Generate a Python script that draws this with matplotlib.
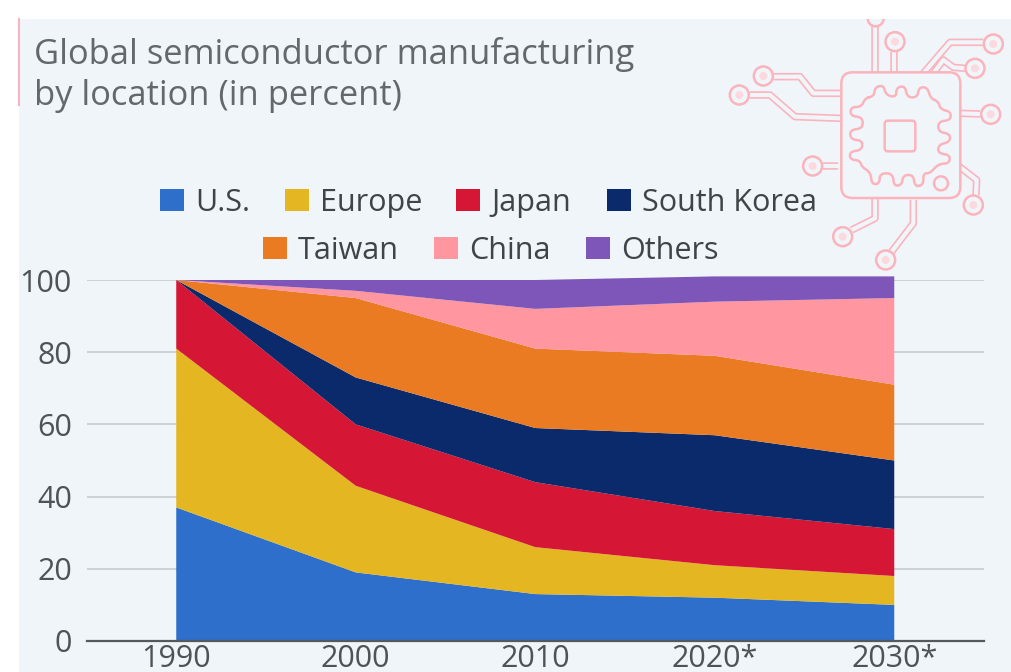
import matplotlib
matplotlib.use('Agg')
import matplotlib.pyplot as plt
from matplotlib.patches import Rectangle, Circle, FancyBboxPatch

plt.rcParams['font.family'] = ['Open Sans', 'DejaVu Sans']

W, H = 1012, 672

years = ['1990', '2000', '2010', '2020*', '2030*']
series_names = ['U.S.', 'Europe', 'Japan', 'South Korea', 'Taiwan', 'China', 'Others']
us = [37, 19, 13, 12, 10]
europe = [44, 24, 13, 9, 8]
japan = [19, 17, 18, 15, 13]
south_korea = [0, 13, 15, 21, 19]
taiwan = [0, 22, 22, 22, 21]
china = [0, 2, 11, 15, 24]
others = [0, 3, 8, 7, 6]
y_ticks = [0, 20, 40, 60, 80, 100]

colors = ['#2D6FCB', '#E3B622', '#D51635', '#0B2A6B', '#EA7B22', '#FF96A0', '#7E55B8']
BG = '#F0F5FA'
PINK = '#FBB4BC'
TEXT = '#4E5356'

fig = plt.figure(figsize=(W / 100, H / 100), dpi=100, facecolor='white')

# full-figure layer in pixel coordinates for panel, title, legend and icon
bg = fig.add_axes([0, 0, 1, 1])
bg.set_xlim(0, W)
bg.set_ylim(H, 0)
bg.axis('off')
bg.add_patch(Rectangle((19, 19), W - 19, H - 19, fc=BG, ec='none'))
bg.plot([19.5, 19.5], [19, 105], color=PINK, lw=1.5)

bg.text(34, 55, 'Global semiconductor manufacturing', fontsize=24.8, color='#63686B', va='center')
bg.text(34, 96, 'by location (in percent)', fontsize=24.8, color='#63686B', va='center')

# legend, two centred rows
legend_rows = [(200, [(160, 0), (285, 1), (456, 2), (607, 3)]),
               (248, [(263, 4), (434, 5), (586, 6)])]
for y, row in legend_rows:
    for x, i in row:
        bg.add_patch(Rectangle((x, y - 11), 24, 22, fc=colors[i], ec='none'))
        bg.text(x + 35, y + 3, series_names[i], fontsize=22, color='#3F4447', va='center')


# chip icon, positions given on a 3x grid then scaled down
def ix(x):
    return 720 + x / 3


def iy(y):
    return 10 + y / 3


def smooth(pts, rounds=2):
    # corner cutting for the rounded chip outline
    for _ in range(rounds):
        out = []
        for a, b in zip(pts, pts[1:] + pts[:1]):
            out.append((0.75 * a[0] + 0.25 * b[0], 0.75 * a[1] + 0.25 * b[1]))
            out.append((0.25 * a[0] + 0.75 * b[0], 0.25 * a[1] + 0.75 * b[1]))
        pts = out
    return pts + pts[:1]


def double_line(pts):
    xs = [ix(p[0]) for p in pts]
    ys = [iy(p[1]) for p in pts]
    bg.plot(xs, ys, color=PINK, lw=5.4, solid_joinstyle='round', solid_capstyle='butt', zorder=3)
    bg.plot(xs, ys, color=BG, lw=3.0, solid_joinstyle='round', solid_capstyle='butt', zorder=4)


traces = [
    [(465, 188), (465, 27)],
    [(522, 188), (522, 125)],
    [(610, 190), (690, 97), (790, 97)],
    [(640, 190), (670, 150), (700, 172), (735, 175)],
    [(362, 250), (280, 250), (240, 200), (160, 200)],
    [(362, 325), (225, 320), (150, 255), (90, 255)],
    [(355, 468), (310, 468)],
    [(722, 310), (780, 312)],
    [(712, 465), (770, 510), (768, 555)],
    [(465, 565), (465, 625), (395, 660)],
    [(580, 570), (580, 640), (515, 725)],
]
pads = [(525, 95), (820, 102), (765, 175), (130, 198), (58, 255), (278, 468),
        (812, 313), (760, 585), (368, 680), (497, 750)]

for t in traces:
    double_line(t)
for cx, cy in pads:
    bg.add_patch(Circle((ix(cx), iy(cy)), 9.5, fc=BG, ec=PINK, lw=1.8, zorder=5))
    bg.add_patch(Circle((ix(cx), iy(cy)), 4, fc='#FBD9DD', ec='none', zorder=6))

# pad cut off by the panel top
top_pad = Circle((ix(467), iy(25)), 8, fc=BG, ec=PINK, lw=1.8, zorder=5)
bg.add_patch(top_pad)
top_pad.set_clip_path(Rectangle((19, 19), W - 19, H - 19, transform=bg.transData))

# chip body
body = FancyBboxPatch((ix(385), iy(208)), 315 / 3, 335 / 3, boxstyle='round,pad=7,rounding_size=11',
                      fc=BG, ec=PINK, lw=1.8, zorder=5)
bg.add_patch(body)

gear = [(435, 265), (462, 258), (465, 232), (490, 225), (498, 255), (528, 262), (530, 232), (555, 228),
        (562, 262), (592, 262), (597, 232), (622, 232), (632, 265), (655, 275), (662, 298), (692, 305),
        (692, 330), (655, 335), (655, 365), (690, 372), (690, 395), (655, 405), (655, 430), (690, 435),
        (688, 460), (655, 462), (630, 490), (610, 490), (610, 525), (585, 530), (580, 495), (550, 495),
        (545, 525), (522, 528), (518, 490), (480, 490), (478, 522), (455, 522), (452, 488), (425, 470),
        (420, 452), (390, 448), (390, 425), (425, 420), (428, 392), (392, 388), (390, 360), (428, 355),
        (428, 322), (392, 318), (392, 292), (425, 290)]
gear_line = smooth(gear)
bg.plot([ix(p[0]) for p in gear_line], [iy(p[1]) for p in gear_line], color=PINK, lw=1.8, zorder=6)
bg.add_patch(FancyBboxPatch((ix(497), iy(335)), 86 / 3, 86 / 3, boxstyle='round,pad=1,rounding_size=3',
                            fc=BG, ec=PINK, lw=1.8, zorder=6))
bg.add_patch(Circle((ix(663), iy(520)), 7, fc=BG, ec=PINK, lw=1.8, zorder=6))

# stacked area chart
left, right = 86.5, 984
top, bottom = 280, 641
ax = fig.add_axes([left / W, 1 - bottom / H, (right - left) / W, (bottom - top) / H])
ax.patch.set_alpha(0)
x = list(range(len(years)))
polys = ax.stackplot(x, us, europe, japan, south_korea, taiwan, china, others, colors=colors, zorder=3)
for p in polys:
    p.set_clip_on(False)
    p.set_linewidth(0)

ax.set_xlim(-0.5, 4.5)
ax.set_ylim(0, 100)
ax.set_xticks(x)
ax.set_xticklabels(years)
ax.set_yticks(y_ticks)
ax.grid(axis='y', color='#CDD0D2', lw=1.4, zorder=0)
ax.set_axisbelow(True)
for side in ['top', 'left', 'right']:
    ax.spines[side].set_visible(False)
ax.spines['bottom'].set_color('#55595C')
ax.spines['bottom'].set_linewidth(1.6)
ax.spines['bottom'].set_zorder(5)
ax.tick_params(axis='both', length=0, labelsize=22, labelcolor=TEXT)
ax.tick_params(axis='x', pad=2)
ax.tick_params(axis='y', pad=10.5)

fig.savefig('out.png', dpi=100, facecolor='white')
